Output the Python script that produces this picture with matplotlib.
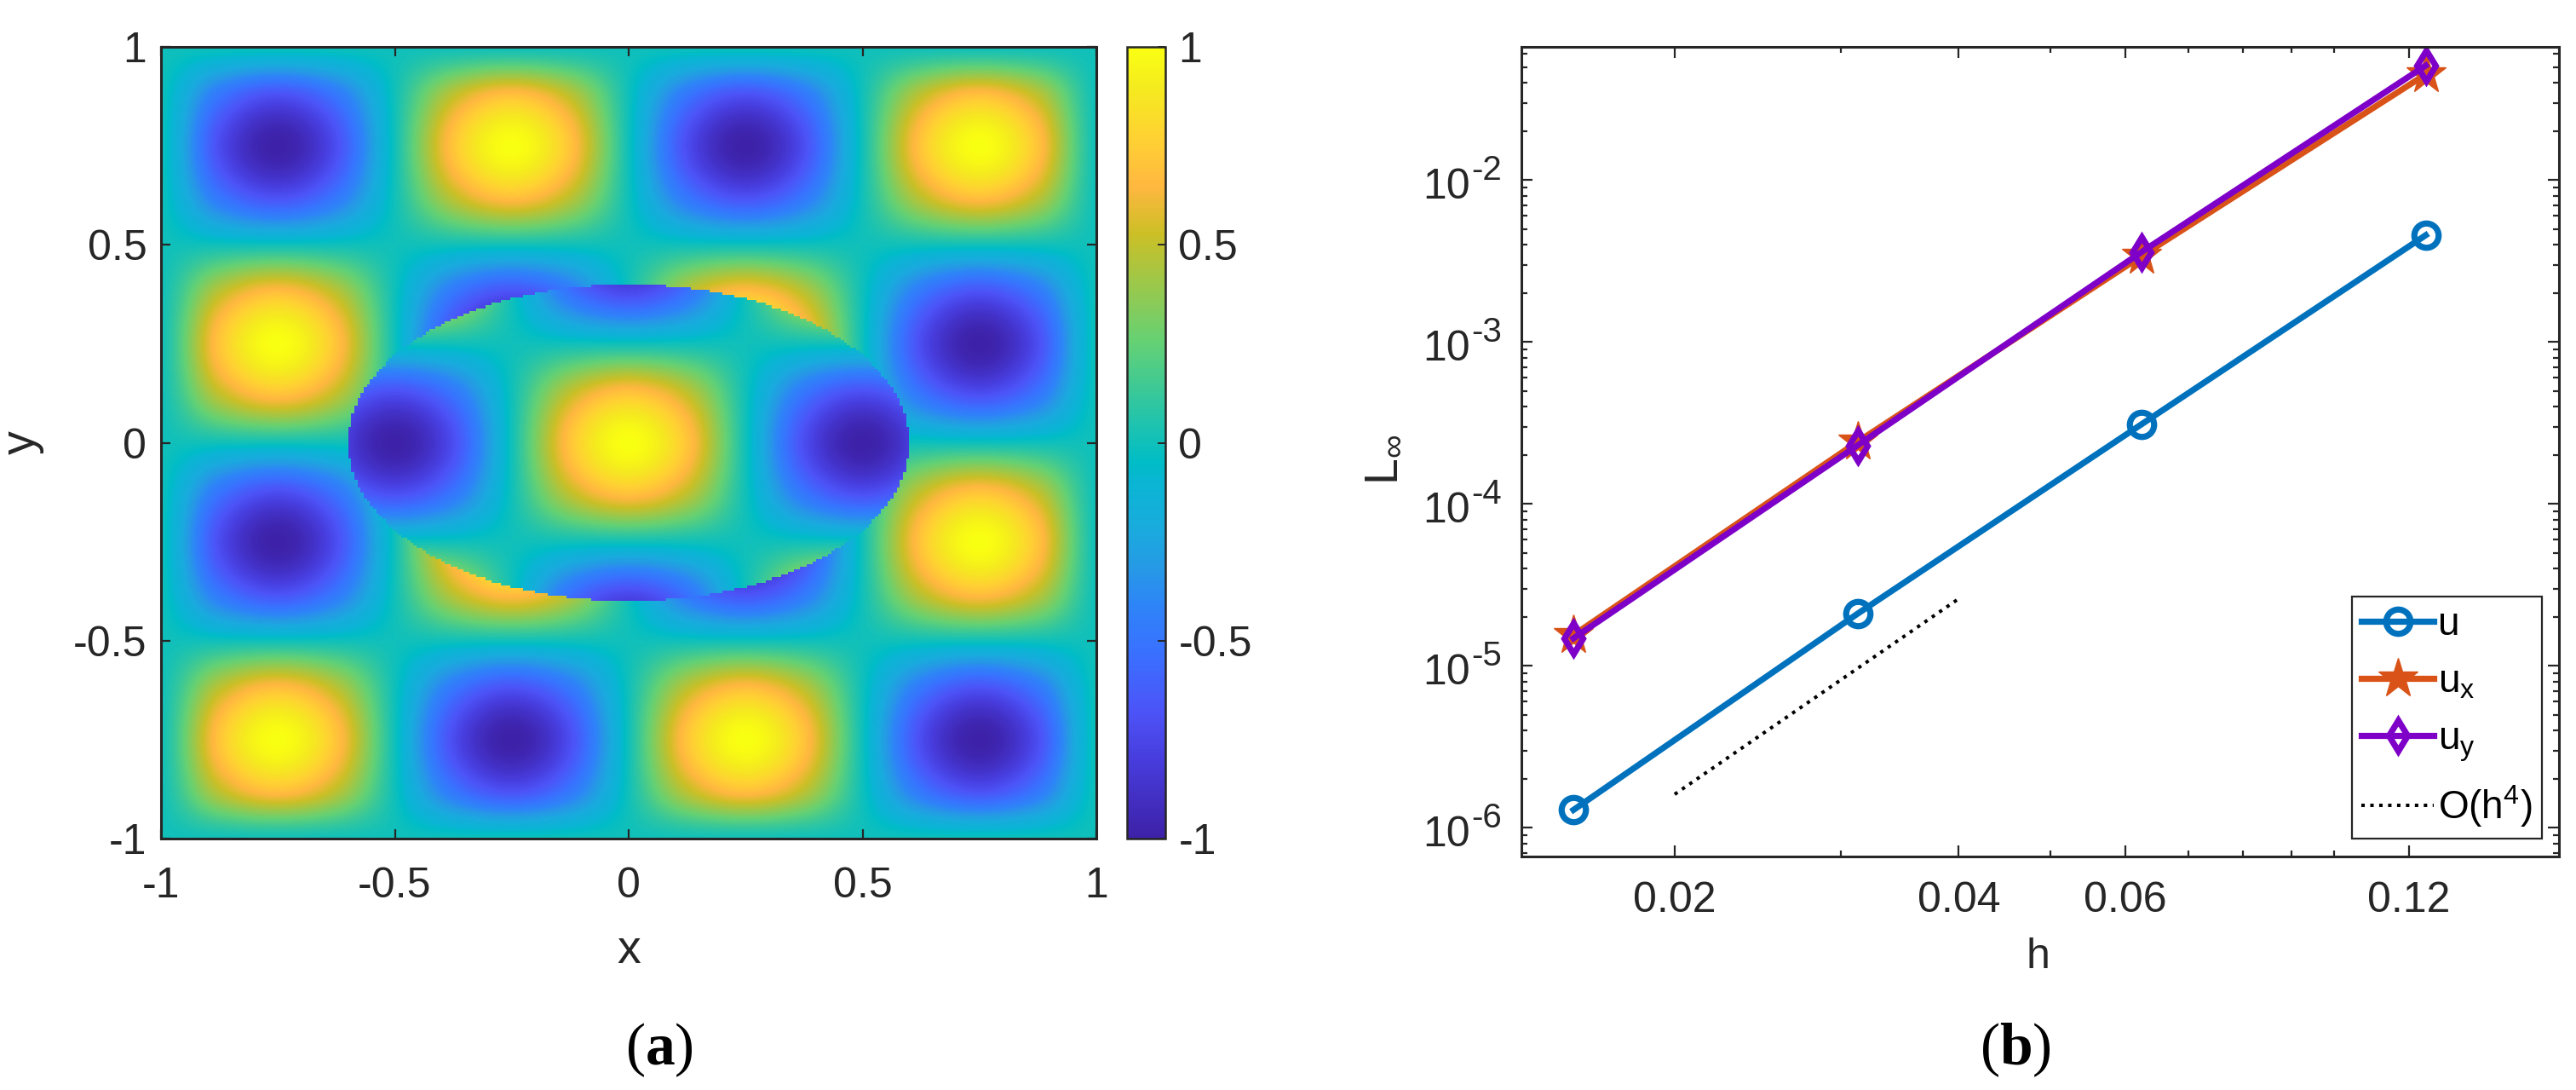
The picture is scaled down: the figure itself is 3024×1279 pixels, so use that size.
import numpy as np
import matplotlib
matplotlib.use('Agg')
import matplotlib.pyplot as plt
from matplotlib.colors import LinearSegmentedColormap
from matplotlib.patches import PathPatch
from matplotlib.path import Path
from matplotlib.ticker import FixedLocator, NullFormatter

plt.rcParams['font.family'] = ['Liberation Sans', 'DejaVu Sans']
plt.rcParams['mathtext.fontset'] = 'custom'
plt.rcParams['mathtext.rm'] = 'Liberation Serif'
plt.rcParams['mathtext.bf'] = 'Liberation Serif:bold'

W, H = 3024, 1279
DARK = '#262626'

# Field values, every 0.125 in x and y
zero_row = [0.0] * 17
half_row = [0, .5, .71, .5, 0, -.5, -.71, -.5, 0, .5, .71, .5, 0, -.5, -.71, -.5, 0]
peak_row = [0, .71, 1, .71, 0, -.71, -1, -.71, 0, .71, 1, .71, 0, -.71, -1, -.71, 0]
neg_half = [-v for v in half_row]
neg_peak = [-v for v in peak_row]
outer_rows = [zero_row, half_row, peak_row, half_row,
              zero_row, neg_half, neg_peak, neg_half,
              zero_row, half_row, peak_row, half_row,
              zero_row, neg_half, neg_peak, neg_half, zero_row]

# Inside the ellipse, x from -0.75 to 0.75 and y from -0.5 to 0.5
in_edge = [0, .71, 1, .71, 0, -.71, -1, -.71, 0, .71, 1, .71, 0]
in_half = [0, -.5, -.71, -.5, 0, .5, .71, .5, 0, -.5, -.71, -.5, 0]
in_peak = [0, -.71, -1, -.71, 0, .71, 1, .71, 0, -.71, -1, -.71, 0]
in_zero = [0.0] * 13
inner_rows = [in_edge, [-v for v in in_half], in_zero, in_half, in_peak,
              in_half, in_zero, [-v for v in in_half], in_edge]

ticks_a = [-1, -0.5, 0, 0.5, 1]
tick_labels_a = ['-1', '-0.5', '0', '0.5', '1']

# Panel (b)
h = [1 / 64, 1 / 32, 1 / 16, 1 / 8]
err_u = [1.29e-6, 2.1e-5, 3.11e-4, 4.57e-3]
err_ux = [1.55e-5, 2.42e-4, 3.4e-3, 4.5e-2]
err_uy = [1.48e-5, 2.3e-4, 3.6e-3, 5.1e-2]
ref_h = [0.02, 0.04]
ref_err = [1.61e-6, 2.6e-5]
h_ticks = [0.02, 0.04, 0.06, 0.12]
h_minor = [0.03, 0.05, 0.07, 0.08, 0.09, 0.1]
err_ticks = [1e-6, 1e-5, 1e-4, 1e-3, 1e-2]
err_exps = ['-6', '-5', '-4', '-3', '-2']

# colours, by value
cmap_vals = [-1, -.8, -.68, -.52, -.41, -.32, -.22, -.1, -.05, .11, .26, .53, .65, .77, .9, 1]
cmap_cols = [(.24, .13, .66), (.28, .24, .87), (.30, .33, .97), (.22, .45, 1.0), (.18, .52, .97),
             (.15, .6, .9), (.1, .67, .87), (.04, .71, .83), (0, .74, .78), (.2, .78, .62),
             (.4, .82, .45), (.8, .75, .15), (1, .72, .25), (1, .82, .2), (.96, .92, .12), (.98, 1, .07)]
parula = LinearSegmentedColormap.from_list('parula', [((v + 1) / 2, c) for v, c in zip(cmap_vals, cmap_cols)], N=256)


def px_axes(x0, y0, x1, y1):
    return fig.add_axes([x0 / W, 1 - y1 / H, (x1 - x0) / W, (y1 - y0) / H])


def blocky_ellipse(a, b, d):
    # ellipse outline on the coarse grid of the original image, so the edge has the same stairs
    edges = np.arange(-a, a + d / 2, d)
    mids = (edges[:-1] + edges[1:]) / 2
    top = np.round(b * np.sqrt(1 - (mids / a) ** 2) / d) * d
    xs = np.column_stack([edges[:-1], edges[1:]]).ravel()
    ys = np.repeat(top, 2)
    return Path(np.column_stack([np.r_[xs, xs[::-1]], np.r_[ys, -ys[::-1]]]))


fig = plt.figure(figsize=(W / 100, H / 100), dpi=100)

# (a)
ax = px_axes(189, 55, 1287, 984)
step = 0.0625
im = ax.imshow(np.array(outer_rows), origin='lower', cmap=parula, vmin=-1, vmax=1, aspect='auto',
               extent=[-1 - step, 1 + step, -1 - step, 1 + step], interpolation='catrom')
inner = ax.imshow(np.array(inner_rows), origin='lower', cmap=parula, vmin=-1, vmax=1, aspect='auto',
                  extent=[-0.75 - step, 0.75 + step, -0.5 - step, 0.5 + step], interpolation='catrom')
inner.set_clip_path(PathPatch(blocky_ellipse(0.6, 0.4, 2 / 300), transform=ax.transData))
ax.set_xlim(-1, 1)
ax.set_ylim(-1, 1)
ax.set_xticks(ticks_a, tick_labels_a)
ax.set_yticks(ticks_a, tick_labels_a)
ax.tick_params(direction='in', top=True, right=True, length=8, width=1.6, color=DARK,
               labelsize=36, labelcolor=DARK)
ax.tick_params(axis='x', pad=24)
ax.tick_params(axis='y', pad=12)
for s in ax.spines.values():
    s.set_linewidth(2.2)
    s.set_color(DARK)
ax.set_xlabel('x', fontsize=40, color=DARK)
ax.xaxis.set_label_coords(0.5, -0.114)
ax.set_ylabel('y', fontsize=40, color=DARK)
ax.yaxis.set_label_coords(-0.125, 0.5)

cax = px_axes(1323, 55, 1368, 984)
cb = fig.colorbar(im, cax=cax)
cb.set_ticks(ticks_a, labels=tick_labels_a)
cb.ax.tick_params(direction='in', length=6.5, width=1.4, color=DARK, labelsize=36, labelcolor=DARK, pad=11)
cb.outline.set_linewidth(1.8)
cb.outline.set_edgecolor(DARK)

# (b)
ax2 = px_axes(1786, 55, 3004, 1005)
lw = 5.2
ax2.loglog(h, err_u, color='#0072BD', lw=lw, marker='o', ms=20.5, mew=lw, mfc='none', label='u')
ax2.loglog(h, err_ux, color='#D95319', lw=lw, marker='*', ms=35, mew=1, label=r'$\mathregular{u_x}$')
ax2.loglog(h, err_uy, color='#7E00C8', lw=lw, marker='d', ms=18.5, mew=lw, mfc='none',
           label=r'$\mathregular{u_y}$')
ax2.loglog(ref_h, ref_err, color='black', lw=2.9, ls=(0, (1, 1.6)), label=r'$\mathregular{O(h^4)}$')
ax2.set_xlim(0.01376, 0.173)
ax2.set_ylim(6.65e-7, 6.65e-2)
ax2.xaxis.set_major_locator(FixedLocator(h_ticks))
ax2.xaxis.set_minor_locator(FixedLocator(h_minor))
ax2.xaxis.set_minor_formatter(NullFormatter())
ax2.set_xticklabels(['0.02', '0.04', '0.06', '0.12'])
ax2.set_yticks(err_ticks, [''] * len(err_ticks))
ax2.yaxis.set_minor_formatter(NullFormatter())
ax2.tick_params(which='major', direction='in', top=True, right=True, length=9.5, width=1.6, color=DARK,
                labelsize=36, labelcolor=DARK)
ax2.tick_params(which='minor', direction='in', top=True, right=True, length=5, width=1.6, color=DARK)
ax2.tick_params(axis='x', which='major', pad=21)
for s in ax2.spines.values():
    s.set_linewidth(2.2)
    s.set_color(DARK)

# MATLAB-style powers of ten, the exponent is nearly as big as the base
for t, e in zip(err_ticks, err_exps):
    ax2.annotate('10', (0, t), xycoords=ax2.get_yaxis_transform(), xytext=(-43.2, -6.5),
                 textcoords='offset points', ha='right', va='center', fontsize=36, color=DARK,
                 annotation_clip=False)
    ax2.annotate(e, (0, t), xycoords=ax2.get_yaxis_transform(), xytext=(-16.5, 8.5),
                 textcoords='offset points', ha='right', va='center', fontsize=29, color=DARK,
                 annotation_clip=False)

ax2.set_xlabel('h', fontsize=36, color=DARK)
ax2.xaxis.set_label_coords(0.4975, -0.1)
ax2.set_ylabel(r'$\mathregular{L_{\infty}}$', fontsize=40, color=DARK)
ax2.yaxis.set_label_coords(-0.112, 0.49)

leg = ax2.legend(loc='lower left', bbox_to_anchor=((2761 - 1786) / 1218, (1005 - 984) / 950), fontsize=33,
                 fancybox=False, framealpha=1, edgecolor=DARK, handlelength=1.85, handletextpad=0.1,
                 labelspacing=0.5, borderaxespad=0, borderpad=0.25, numpoints=1)
leg.get_frame().set_linewidth(1.6)

fig.text(774 / W, 1 - 1232 / H, r'$(\mathbf{a})$', fontsize=50, ha='center', va='center')
fig.text(2366 / W, 1 - 1232 / H, r'$(\mathbf{b})$', fontsize=50, ha='center', va='center')

fig.savefig('out.png', dpi=100)
